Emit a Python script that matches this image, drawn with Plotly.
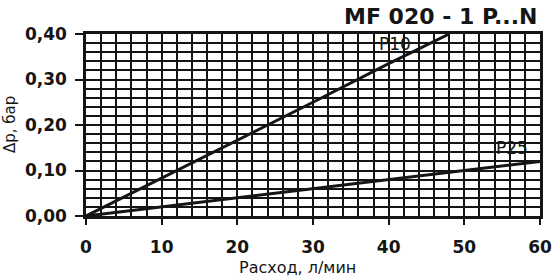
import plotly.graph_objects as go

# Data
flow_p10 = [0, 10, 20, 30, 40, 48]
dp_p10 = [0.0, 0.083, 0.167, 0.25, 0.335, 0.40]
flow_p25 = [0, 10, 20, 30, 40, 50, 60]
dp_p25 = [0.0, 0.02, 0.04, 0.06, 0.08, 0.10, 0.12]

x_ticks = [0, 10, 20, 30, 40, 50, 60]
y_ticks = [0.0, 0.1, 0.2, 0.3, 0.4]

title_text = "MF 020 - 1 P...N"
x_title = "Расход, л/мин"
y_title = "Δp, бар"

FONT = "DejaVu Sans"
INK = "#151515"

fig = go.Figure()
fig.add_trace(go.Scatter(x=flow_p10, y=dp_p10, mode="lines",
                         line=dict(color=INK, width=3), showlegend=False))
fig.add_trace(go.Scatter(x=flow_p25, y=dp_p25, mode="lines",
                         line=dict(color=INK, width=3), showlegend=False))

fig.add_annotation(x=40.8, y=0.378, text="P10", showarrow=False,
                   font=dict(family=FONT, size=17, color=INK))
fig.add_annotation(x=56.3, y=0.149, text="P25", showarrow=False,
                   font=dict(family=FONT, size=17, color=INK))
fig.add_annotation(xref="paper", yref="paper", x=1, y=1, xanchor="right",
                   yanchor="bottom", xshift=0, yshift=3, text=title_text,
                   showarrow=False,
                   font=dict(family=FONT, size=22, color=INK, weight="bold"))
# axis titles
fig.add_annotation(xref="paper", yref="paper", x=(297 - 86) / 454, y=0,
                   xanchor="center", yanchor="top", yshift=-40, text=x_title,
                   showarrow=False, font=dict(family=FONT, size=16, color=INK))
fig.add_annotation(xref="paper", yref="paper", x=0, y=0.5, textangle=-90,
                   xanchor="center", yanchor="middle", xshift=-76, text=y_title,
                   showarrow=False, font=dict(family=FONT, size=15, color=INK))

axis_common = dict(showline=True, linecolor=INK, linewidth=2.5, mirror=True,
                   showgrid=True, gridcolor=INK, gridwidth=2, automargin=False,
                   ticks="outside", tickcolor=INK, tickwidth=2, zeroline=False)

fig.update_xaxes(range=[0, 60], tickvals=x_ticks, ticklen=6, ticklabelstandoff=8,
                 tickfont=dict(family=FONT, size=17, color=INK, weight="bold"),
                 minor=dict(dtick=2, showgrid=True, gridcolor=INK, gridwidth=2, ticks=""),
                 **axis_common)
fig.update_yaxes(range=[0, 0.4], tickvals=y_ticks, tickformat=".2f", ticklen=8,
                 ticklabelstandoff=5,
                 tickfont=dict(family=FONT, size=17, color=INK, weight="bold"),
                 minor=dict(dtick=0.02, showgrid=True, gridcolor=INK, gridwidth=2, ticks=""),
                 **axis_common)

fig.update_layout(width=554, height=280, separators=",.",
                  margin=dict(l=86, r=14, t=34, b=64),
                  plot_bgcolor="white", paper_bgcolor="white")

fig.write_html("out.html", post_script="document.body.style.margin='0';",
               config={"displayModeBar": False})
